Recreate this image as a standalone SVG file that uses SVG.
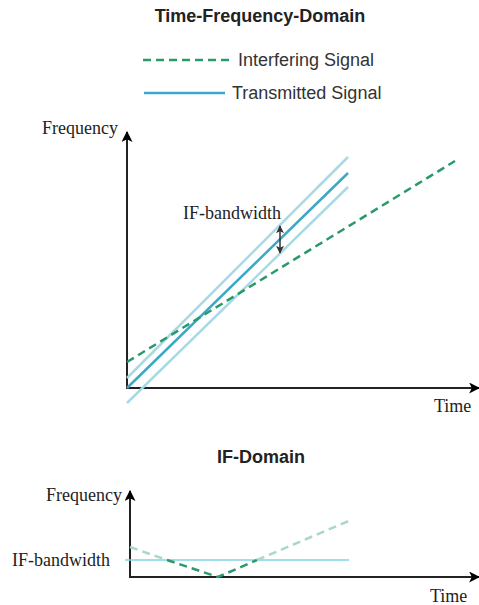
<svg xmlns="http://www.w3.org/2000/svg" width="479" height="605" viewBox="0 0 479 605">
<defs>
<marker id="ah" viewBox="0 0 10 10" refX="9" refY="5" markerWidth="11" markerHeight="11" markerUnits="userSpaceOnUse" orient="auto-start-reverse">
<path d="M0,0 L10,5 L0,10 L2.5,5 Z" fill="#000"/>
</marker>
<marker id="sa" viewBox="0 0 10 10" refX="9" refY="5" markerWidth="8" markerHeight="8" markerUnits="userSpaceOnUse" orient="auto-start-reverse">
<path d="M0,0 L10,5 L0,10 L2.5,5 Z" fill="#333"/>
</marker>
</defs>
<style>
.title{font-family:"Liberation Sans",Arial,sans-serif;font-weight:bold;font-size:18px;fill:#222;text-anchor:middle}
.leg{font-family:"Liberation Sans",Arial,sans-serif;font-size:18px;fill:#333}
.lab{font-family:"Liberation Serif","Times New Roman",serif;font-size:18px;fill:#222}
.axis{stroke:#222;stroke-width:2;fill:none}
.intf{stroke:#2a9a6a;stroke-width:2.5;stroke-dasharray:8,5;fill:none}
.intfl{stroke:#a9d9c2;stroke-width:2.5;stroke-dasharray:8,5;fill:none}
.tx{stroke:#3aa8c6;stroke-width:2.5;fill:none}
.txl{stroke:#a8dae6;stroke-width:2.5;fill:none}
</style>
<g id="titles">
<text class="title" x="260" y="22">Time-Frequency-Domain</text>
<text class="title" x="261" y="463">IF-Domain</text>
</g>
<g id="legend">
<line class="intf" x1="143" y1="60" x2="233" y2="60" stroke-dasharray="6,4"/>
<text class="leg" x="238" y="66">Interfering Signal</text>
<line class="tx" x1="144" y1="93" x2="225" y2="93"/>
<text class="leg" x="232" y="99">Transmitted Signal</text>
</g>
<g id="tf-plot">
<text class="lab" x="42" y="134">Frequency</text>
<text class="lab" x="434" y="412">Time</text>
<text class="lab" x="183" y="219">IF-bandwidth</text>
</g>
<g id="if-plot">
<text class="lab" x="46" y="501">Frequency</text>
<text class="lab" x="430" y="602">Time</text>
<text class="lab" x="12" y="566">IF-bandwidth</text>
</g>
<g id="connectors">
<line class="axis" x1="127" y1="389" x2="127" y2="132" marker-end="url(#ah)"/>
<line class="axis" x1="126" y1="388" x2="479" y2="388" marker-end="url(#ah)"/>
<line class="txl" x1="127" y1="378" x2="348" y2="157"/>
<line class="txl" x1="127" y1="403" x2="348" y2="187"/>
<line class="tx" x1="127" y1="388" x2="348" y2="173"/>
<line class="intf" x1="127" y1="362" x2="455" y2="161"/>
<line stroke="#333" stroke-width="1.5" x1="280" y1="226" x2="280" y2="253" marker-start="url(#sa)" marker-end="url(#sa)"/>
<line class="axis" x1="130" y1="578" x2="130" y2="491" marker-end="url(#ah)"/>
<line class="axis" x1="129" y1="577" x2="479" y2="577" marker-end="url(#ah)"/>
<line stroke="#7fd3e6" stroke-width="1.5" x1="125" y1="560" x2="349" y2="560"/>
<polyline class="intfl" points="130,547 167,560"/>
<polyline class="intf" points="167,560 218,577 257,560"/>
<polyline class="intfl" points="257,560 351,520"/>
</g>
</svg>
